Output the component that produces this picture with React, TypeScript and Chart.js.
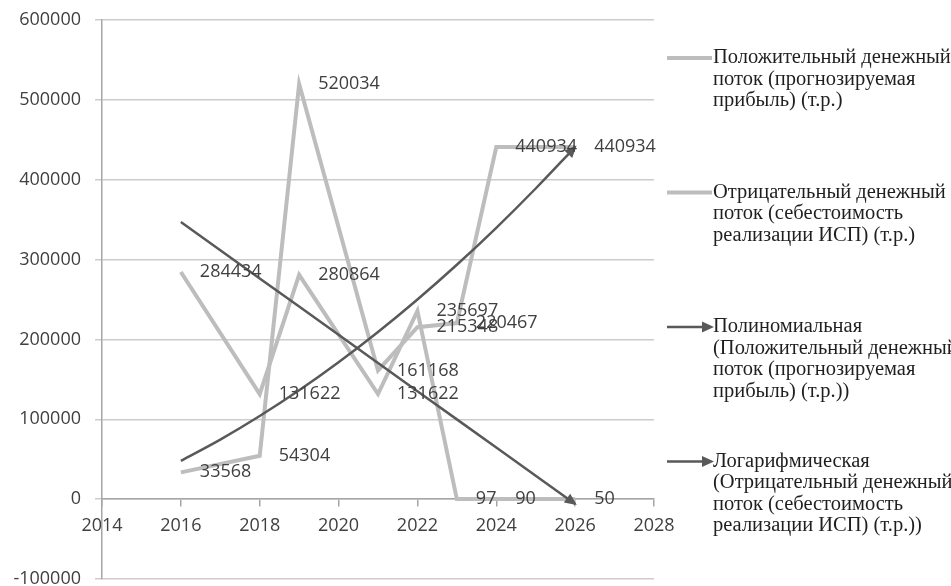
import React, { useEffect, useRef } from "react";
import { Chart, registerables } from "chart.js";

Chart.register(...registerables);

// ---- data ----
const years = [2016, 2018, 2019, 2021, 2022, 2023, 2024, 2026];
const positiveFlow = [33568, 54304, 520034, 161168, 215348, 220467, 440934, 440934];
const negativeFlow = [284434, 131622, 280864, 131622, 235697, 97, 90, 50];

const trendYears = [2016, 2017, 2018, 2019, 2020, 2021, 2022, 2023, 2024, 2025, 2026];
const polyTrend = [48000, 74600, 104100, 136300, 171400, 209300, 250000, 293500, 339800, 389000, 440900];
const logTrend = [347000, 311700, 276400, 241100, 205800, 170500, 135200, 99900, 64600, 29300, -6000];

const xTicks = [2014, 2016, 2018, 2020, 2022, 2024, 2026, 2028];
const yTicks = [-100000, 0, 100000, 200000, 300000, 400000, 500000, 600000];

const legendPositive = ["Положительный денежный", "поток (прогнозируемая", "прибыль) (т.р.)"];
const legendNegative = ["Отрицательный денежный", "поток (себестоимость", "реализации ИСП) (т.р.)"];
const legendPoly = ["Полиномиальная", "(Положительный денежный", "поток (прогнозируемая", "прибыль) (т.р.))"];
const legendLog = ["Логарифмическая", "(Отрицательный денежный", "поток (себестоимость", "реализации ИСП) (т.р.))"];

// ---- styles ----
const LIGHT = "#bdbdbd";
const DARK = "#595959";
const AXIS = "#a6a6a6";
const GRID = "#cccccc";
const NUM_FONT = '"Open Sans", "Liberation Sans", sans-serif';
const LEG_FONT = '"Liberation Serif", "DejaVu Serif", serif';

function drawArrow(ctx: CanvasRenderingContext2D, x: number, y: number, ang: number, color: string) {
  const len = 12;
  const half = 5.5;
  ctx.save();
  ctx.translate(x, y);
  ctx.rotate(ang);
  ctx.fillStyle = color;
  ctx.beginPath();
  ctx.moveTo(2, 0);
  ctx.lineTo(2 - len, -half);
  ctx.lineTo(2 - len, half);
  ctx.closePath();
  ctx.fill();
  ctx.restore();
}

const labelsPlugin = {
  id: "valueLabels",
  afterDatasetsDraw(chart: any) {
    const ctx = chart.ctx as CanvasRenderingContext2D;
    chart.data.datasets.forEach((ds: any, i: number) => {
      const meta = chart.getDatasetMeta(i);
      if (ds.arrowHead) {
        const pts = meta.data;
        const n = pts.length;
        const a = pts[n - 2];
        const b = pts[n - 1];
        drawArrow(ctx, b.x, b.y, Math.atan2(b.y - a.y, b.x - a.x), ds.borderColor);
      }
    });
    ctx.save();
    ctx.font = `18px ${NUM_FONT}`;
    ctx.fillStyle = "#404040";
    ctx.textAlign = "left";
    ctx.textBaseline = "middle";
    chart.data.datasets.forEach((ds: any, i: number) => {
      if (!ds.showValues) return;
      const meta = chart.getDatasetMeta(i);
      meta.data.forEach((pt: any, j: number) => {
        const v = ds.data[j];
        ctx.fillText(String(v.y), pt.x + 19, pt.y);
      });
    });
    ctx.restore();
  },
};

const legendPlugin = {
  id: "sideLegend",
  afterDraw(chart: any) {
    const ctx = chart.ctx as CanvasRenderingContext2D;
    const items = [
      { lines: legendPositive, color: LIGHT, width: 4, arrow: false },
      { lines: legendNegative, color: LIGHT, width: 4, arrow: false },
      { lines: legendPoly, color: DARK, width: 2.5, arrow: true },
      { lines: legendLog, color: DARK, width: 2.5, arrow: true },
    ];
    const sx = chart.chartArea.right + 13;
    const sLen = 45;
    const tx = sx + 46;
    const y0 = 58;
    const step = 134.5;
    const lh = 21.5;
    ctx.save();
    items.forEach((it, k) => {
      const y = y0 + k * step;
      ctx.strokeStyle = it.color;
      ctx.lineWidth = it.width;
      ctx.beginPath();
      ctx.moveTo(sx, y);
      ctx.lineTo(sx + sLen - (it.arrow ? 6 : 0), y);
      ctx.stroke();
      if (it.arrow) drawArrow(ctx, sx + sLen, y, 0, it.color);
      ctx.font = `20.5px ${LEG_FONT}`;
      ctx.fillStyle = "#1f1f1f";
      ctx.textAlign = "left";
      ctx.textBaseline = "middle";
      it.lines.forEach((ln, m) => ctx.fillText(ln, tx, y + m * lh));
    });
    ctx.restore();
  },
};

export default function App() {
  const ref = useRef<HTMLCanvasElement | null>(null);

  useEffect(() => {
    if (!ref.current) return;
    const toPts = (xs: number[], ys: number[]) => xs.map((x, i) => ({ x, y: ys[i] }));
    const chart = new Chart(ref.current, {
      type: "line",
      data: {
        datasets: [
          {
            label: legendPositive.join(" "),
            data: toPts(years, positiveFlow),
            borderColor: LIGHT,
            borderWidth: 4,
            pointRadius: 0,
            tension: 0,
            order: 2,
            showValues: true,
          } as any,
          {
            label: legendNegative.join(" "),
            data: toPts(years, negativeFlow),
            borderColor: LIGHT,
            borderWidth: 4,
            pointRadius: 0,
            tension: 0,
            order: 2,
            showValues: true,
          } as any,
          {
            label: legendPoly.join(" "),
            data: toPts(trendYears, polyTrend),
            borderColor: DARK,
            borderWidth: 2.5,
            pointRadius: 0,
            tension: 0.4,
            cubicInterpolationMode: "monotone",
            order: 1,
            arrowHead: true,
          } as any,
          {
            label: legendLog.join(" "),
            data: toPts(trendYears, logTrend),
            borderColor: DARK,
            borderWidth: 2.5,
            pointRadius: 0,
            tension: 0,
            order: 1,
            arrowHead: true,
          } as any,
        ],
      },
      options: {
        animation: false,
        responsive: false,
        layout: { padding: { left: 0, right: 297, top: 20, bottom: 7 } },
        plugins: { legend: { display: false }, tooltip: { enabled: false } },
        scales: {
          x: {
            type: "linear",
            min: xTicks[0],
            max: xTicks[xTicks.length - 1],
            position: { y: 0 } as any,
            afterBuildTicks: (s: any) => {
              s.ticks = xTicks.map((v) => ({ value: v }));
            },
            ticks: {
              callback: (v: any) => String(v),
              font: { family: NUM_FONT, size: 18 },
              color: "#404040",
              padding: 9,
              maxRotation: 0,
              autoSkip: false,
            },
            grid: { drawOnChartArea: false, tickLength: 7, color: AXIS, lineWidth: 1.5 },
            border: { color: AXIS, width: 1.5 },
          },
          y: {
            type: "linear",
            min: yTicks[0],
            max: yTicks[yTicks.length - 1],
            afterBuildTicks: (s: any) => {
              s.ticks = yTicks.map((v) => ({ value: v }));
            },
            afterFit: (s: any) => {
              s.width = 102;
              s.paddingTop = 0;
              s.paddingBottom = 0;
            },
            ticks: {
              callback: (v: any) => String(v),
              font: { family: NUM_FONT, size: 18 },
              color: "#404040",
              padding: 14,
            },
            grid: { color: GRID, tickLength: 7, lineWidth: 1.5 },
            border: { color: AXIS, width: 1.5 },
          },
        },
      },
      plugins: [labelsPlugin, legendPlugin],
    } as any);
    return () => chart.destroy();
  }, []);

  return (
    <div style={{ position: "absolute", left: 0, top: 0, width: 951, height: 586, background: "#fff" }}>
      <canvas ref={ref} width={951} height={586} />
    </div>
  );
}
